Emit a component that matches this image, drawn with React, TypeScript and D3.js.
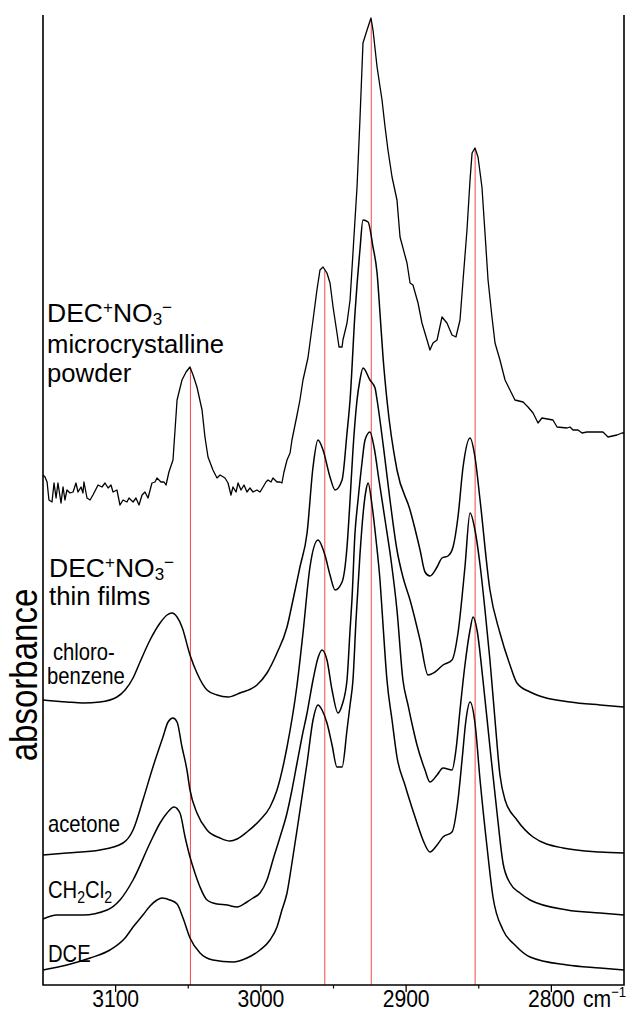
import React from "react";
import * as d3 from "d3";

type Pt = [number, number];

// wavenumber (cm^-1), absorbance (offset, arbitrary units)
const powder: Pt[] = [
  [3150, 0.508], [3148.6, 0.506], [3147.2, 0.501], [3145.9, 0.483], [3143.8, 0.481], [3142.4, 0.5], [3141.0, 0.485],
  [3139.7, 0.5], [3137.6, 0.48], [3136.2, 0.496], [3134.9, 0.483], [3133.5, 0.493], [3131.4, 0.49], [3129.3, 0.491],
  [3127.3, 0.5], [3125.9, 0.491], [3123.8, 0.496], [3122.5, 0.49], [3121.8, 0.501], [3119.7, 0.485], [3117.6, 0.483],
  [3115.6, 0.488], [3112.1, 0.498], [3109.4, 0.496], [3107.3, 0.5], [3105.2, 0.495], [3103.2, 0.498], [3101.8, 0.491],
  [3099.1, 0.493], [3097.0, 0.478], [3094.9, 0.483], [3092.2, 0.481], [3090.8, 0.485], [3088.0, 0.481], [3086.0, 0.485],
  [3083.9, 0.478], [3081.8, 0.488], [3079.8, 0.491], [3077.7, 0.485], [3075.0, 0.5], [3072.9, 0.501], [3071.5, 0.505],
  [3068.8, 0.501], [3066.7, 0.501], [3065.3, 0.498], [3063.3, 0.511], [3060.5, 0.523], [3059.1, 0.553], [3057.7, 0.583],
  [3054.3, 0.603], [3051.5, 0.611], [3048.8, 0.616], [3046.7, 0.608], [3044.0, 0.596], [3040.5, 0.573], [3038.5, 0.546],
  [3036.4, 0.526], [3033.0, 0.513], [3030.2, 0.505], [3028.1, 0.508], [3024.7, 0.505], [3022.6, 0.5], [3020.6, 0.488],
  [3019.2, 0.496], [3017.1, 0.491], [3015.7, 0.5], [3013.7, 0.493], [3011.6, 0.498], [3009.6, 0.491], [3007.5, 0.495],
  [3005.4, 0.491], [3002.7, 0.493], [3000.6, 0.491], [2998.5, 0.496], [2996.5, 0.501], [2995.1, 0.503], [2993.0, 0.501],
  [2991.7, 0.505], [2988.9, 0.501], [2986.8, 0.501], [2985.5, 0.5], [2984.1, 0.511], [2982.0, 0.523], [2979.9, 0.53],
  [2978.6, 0.543], [2975.1, 0.568], [2973.1, 0.583], [2971.0, 0.603], [2967.6, 0.625], [2964.1, 0.663], [2961.4, 0.693],
  [2959.3, 0.713], [2957.2, 0.716], [2954.5, 0.71], [2952.4, 0.7], [2950.3, 0.676], [2947.6, 0.65], [2946.2, 0.636],
  [2944.1, 0.636], [2943.5, 0.643], [2940.7, 0.66], [2938.6, 0.683], [2936.6, 0.73], [2933.8, 0.796], [2931.8, 0.863],
  [2929.7, 0.94], [2926.9, 0.953], [2924.2, 0.965], [2922.8, 0.953], [2920.0, 0.916], [2916.6, 0.883], [2914.5, 0.856],
  [2912.5, 0.833], [2909.7, 0.806], [2906.3, 0.783], [2904.2, 0.746], [2899.4, 0.72], [2897.3, 0.7], [2895.3, 0.698],
  [2891.8, 0.68], [2889.1, 0.66], [2885.6, 0.643], [2883.6, 0.633], [2881.5, 0.64], [2878.7, 0.643], [2875.3, 0.666],
  [2871.9, 0.66], [2868.4, 0.648], [2865.7, 0.646], [2862.9, 0.663], [2860.8, 0.703], [2858.1, 0.753], [2856.0, 0.803],
  [2854.6, 0.83], [2852.6, 0.835], [2850.5, 0.826], [2847.8, 0.796], [2845.7, 0.75], [2843.6, 0.703], [2840.9, 0.666],
  [2838.8, 0.64], [2835.4, 0.623], [2831.9, 0.603], [2828.5, 0.593], [2825.1, 0.583], [2819.5, 0.581], [2816.1, 0.576],
  [2812.6, 0.57], [2809.2, 0.56], [2806.5, 0.565], [2798.9, 0.563], [2796.1, 0.556], [2789.2, 0.555], [2787.2, 0.556],
  [2785.1, 0.553], [2781.7, 0.553], [2778.9, 0.55], [2775.5, 0.551], [2771.3, 0.551], [2764.5, 0.551], [2761.0, 0.546],
  [2754.8, 0.548], [2751.4, 0.55], [2750, 0.55],
];

const chlorobenzene: Pt[] = [
  [3150, 0.283], [3133.5, 0.281], [3122.5, 0.28], [3110.8, 0.281], [3099.1, 0.286], [3093.5, 0.293], [3088.0, 0.305],
  [3083.2, 0.321], [3076.3, 0.343], [3069.4, 0.36], [3064.6, 0.368], [3061.2, 0.37], [3057.7, 0.366], [3054.3, 0.356],
  [3048.8, 0.328], [3044.0, 0.31], [3037.1, 0.293], [3030.2, 0.288], [3022.6, 0.286], [3014.4, 0.29], [3002.7, 0.298],
  [2995.8, 0.31], [2988.9, 0.33], [2982.0, 0.356], [2977.9, 0.383], [2973.1, 0.416], [2968.2, 0.45], [2964.1, 0.516],
  [2960.7, 0.543], [2957.2, 0.533], [2952.4, 0.506], [2948.9, 0.493], [2944.1, 0.503], [2940.7, 0.55], [2938.6, 0.583],
  [2935.2, 0.67], [2931.8, 0.733], [2929.7, 0.763], [2926.2, 0.761], [2922.8, 0.736], [2920.0, 0.71], [2918.0, 0.67],
  [2915.9, 0.626], [2913.2, 0.583], [2906.3, 0.513], [2897.3, 0.473], [2890.4, 0.433], [2887.0, 0.411], [2883.6, 0.407],
  [2878.7, 0.416], [2875.3, 0.425], [2871.2, 0.427], [2867.7, 0.436], [2864.3, 0.466], [2860.8, 0.516], [2856.0, 0.545],
  [2852.6, 0.526], [2849.1, 0.483], [2842.3, 0.393], [2835.4, 0.35], [2828.5, 0.318], [2823.7, 0.3], [2814.7, 0.291],
  [2805.8, 0.286], [2787.2, 0.281], [2766.5, 0.278], [2750, 0.276],
];

const acetone: Pt[] = [
  [3150, 0.128], [3133.5, 0.13], [3110.8, 0.133], [3094.9, 0.14], [3088.0, 0.153], [3081.2, 0.183], [3074.3, 0.216],
  [3067.4, 0.246], [3063.9, 0.261], [3060.5, 0.265], [3057.7, 0.261], [3054.3, 0.236], [3050.9, 0.213], [3048.8, 0.193],
  [3044.0, 0.17], [3037.1, 0.153], [3028.1, 0.145], [3021.3, 0.142], [3016.4, 0.144], [3009.6, 0.151], [3000.6, 0.163],
  [2993.7, 0.176], [2988.9, 0.193], [2982.0, 0.236], [2975.1, 0.298], [2971.0, 0.35], [2966.2, 0.416], [2960.7, 0.443],
  [2955.9, 0.428], [2952.4, 0.408], [2948.9, 0.393], [2944.1, 0.401], [2940.7, 0.436], [2938.6, 0.483], [2936.6, 0.533],
  [2933.8, 0.583], [2931.8, 0.603], [2929.7, 0.615], [2924.9, 0.603], [2921.4, 0.595], [2920.0, 0.583], [2914.5, 0.523],
  [2911.1, 0.483], [2906.3, 0.433], [2902.2, 0.406], [2897.3, 0.383], [2890.4, 0.343], [2884.9, 0.308], [2880.1, 0.311],
  [2874.6, 0.318], [2868.4, 0.323], [2864.3, 0.35], [2859.5, 0.416], [2856.0, 0.47], [2852.6, 0.453], [2849.1, 0.418],
  [2845.7, 0.373], [2842.3, 0.323], [2838.8, 0.263], [2835.4, 0.208], [2831.9, 0.183], [2823.7, 0.163], [2812.6, 0.146],
  [2792.0, 0.135], [2766.5, 0.131], [2750, 0.13],
];

const ch2cl2: Pt[] = [
  [3150, 0.064], [3140.4, 0.068], [3122.5, 0.068], [3105.9, 0.073], [3097.0, 0.083], [3088.0, 0.103], [3076.3, 0.14],
  [3069.4, 0.16], [3064.6, 0.17], [3059.8, 0.176], [3055.7, 0.17], [3052.2, 0.146], [3048.8, 0.126], [3045.4, 0.11],
  [3041.9, 0.096], [3037.1, 0.083], [3030.2, 0.079], [3023.3, 0.078], [3016.4, 0.076], [3009.6, 0.081], [3005.4, 0.085],
  [3000.6, 0.09], [2995.8, 0.103], [2991.7, 0.123], [2986.8, 0.146], [2982.0, 0.17], [2978.6, 0.193], [2975.1, 0.22],
  [2971.7, 0.246], [2968.2, 0.27], [2964.1, 0.303], [2960.7, 0.325], [2957.9, 0.333], [2954.5, 0.323], [2951.0, 0.293],
  [2946.9, 0.27], [2944.1, 0.278], [2940.7, 0.303], [2938.6, 0.353], [2937.3, 0.383], [2935.2, 0.45], [2933.1, 0.483],
  [2930.4, 0.52], [2928.3, 0.543], [2924.9, 0.551], [2922.1, 0.536], [2918.7, 0.503], [2914.5, 0.463], [2910.4, 0.423],
  [2906.3, 0.373], [2902.2, 0.303], [2898.7, 0.278], [2895.3, 0.255], [2892.5, 0.238], [2887.0, 0.213], [2883.6, 0.201],
  [2878.7, 0.208], [2874.6, 0.215], [2868.4, 0.213], [2865.7, 0.233], [2862.9, 0.273], [2859.5, 0.318], [2856.0, 0.353],
  [2853.9, 0.366], [2851.2, 0.353], [2847.1, 0.303], [2842.3, 0.236], [2837.4, 0.17], [2833.3, 0.12], [2828.5, 0.1],
  [2821.6, 0.09], [2814.7, 0.083], [2789.2, 0.073], [2766.5, 0.07], [2750, 0.068],
];

const dce: Pt[] = [
  [3150, 0.013], [3133.5, 0.018], [3117.6, 0.025], [3103.9, 0.033], [3093.5, 0.045], [3088.0, 0.056], [3081.2, 0.068],
  [3076.3, 0.077], [3071.5, 0.083], [3068.1, 0.085], [3062.6, 0.083], [3057.7, 0.079], [3053.6, 0.065], [3048.8, 0.045],
  [3041.9, 0.03], [3033.0, 0.023], [3019.2, 0.021], [3009.6, 0.025], [3000.6, 0.033], [2993.7, 0.043], [2988.9, 0.056],
  [2985.5, 0.073], [2982.0, 0.09], [2978.6, 0.12], [2975.1, 0.153], [2971.7, 0.186], [2968.2, 0.22], [2964.1, 0.263],
  [2960.7, 0.278], [2957.9, 0.273], [2954.5, 0.26], [2951.0, 0.238], [2947.6, 0.216], [2944.1, 0.216], [2940.7, 0.253],
  [2938.6, 0.278], [2936.6, 0.303], [2934.5, 0.363], [2931.8, 0.428], [2929.7, 0.468], [2927.6, 0.493], [2926.2, 0.5],
  [2923.5, 0.478], [2920.7, 0.443], [2918.0, 0.403], [2915.9, 0.358], [2913.2, 0.303], [2909.7, 0.263], [2906.3, 0.226],
  [2900.8, 0.198], [2895.9, 0.175], [2892.5, 0.16], [2888.4, 0.143], [2883.6, 0.131], [2878.7, 0.138], [2874.6, 0.146],
  [2868.4, 0.151], [2864.3, 0.183], [2861.5, 0.223], [2858.8, 0.263], [2856.0, 0.281], [2852.6, 0.26], [2849.1, 0.203],
  [2844.3, 0.136], [2840.2, 0.086], [2833.3, 0.053], [2825.1, 0.038], [2814.7, 0.026], [2789.2, 0.018], [2766.5, 0.015],
  [2750, 0.013],
];

const markerWavenumbers = [3048.5, 2956, 2924, 2852.5];
const majorTicks = [3100, 3000, 2900, 2800];
const minorTicks = [3050, 2950, 2850];

const FONT = "'Liberation Sans', Arial, Helvetica, sans-serif";

function valueAt(data: Pt[], wn: number): number {
  for (let i = 0; i < data.length - 1; i++) {
    const [x0, y0] = data[i];
    const [x1, y1] = data[i + 1];
    if (x0 >= wn && x1 <= wn) {
      const t = (x0 - wn) / (x0 - x1);
      return y0 + t * (y1 - y0);
    }
  }
  return 0;
}

const Lbl = ({ x, y, size, sx, children }: { x: number; y: number; size: number; sx: number; children: React.ReactNode }) => (
  <text transform={`translate(${x},${y}) scale(${sx},1)`} fontSize={size} fontFamily={FONT} fill="#000">
    {children}
  </text>
);

export default function App() {
  const W = 627;
  const H = 1011;
  const x0 = 43;
  const x1 = 624;
  const axisY = 985;
  const topY = 15;
  const x = d3.scaleLinear().domain([3150, 2750]).range([x0, x1]);
  const y = d3.scaleLinear().domain([0, 0.968]).range([983, 15]);

  const smooth = d3.line<Pt>().x((d) => x(d[0])).y((d) => y(d[1])).curve(d3.curveMonotoneX);
  const jagged = d3.line<Pt>().x((d) => x(d[0])).y((d) => y(d[1])).curve(d3.curveLinear);

  const films = [chlorobenzene, acetone, ch2cl2, dce];

  return (
    <svg width={W} height={H} style={{ position: "absolute", left: 0, top: 0, background: "#fff" }}>
      <rect width={W} height={H} fill="#fff" />
      {markerWavenumbers.map((wn) => (
        <line key={wn} x1={x(wn)} x2={x(wn)} y1={y(valueAt(powder, wn))} y2={axisY} stroke="#f24848" strokeWidth={1} />
      ))}
      <path d={jagged(powder) || ""} fill="none" stroke="#000" strokeWidth={1.3} strokeLinejoin="round" />
      {films.map((f, i) => (
        <path key={i} d={smooth(f) || ""} fill="none" stroke="#000" strokeWidth={1.5} strokeLinejoin="round" />
      ))}
      <path d={`M${x0},${topY}V${axisY}H${x1}V${topY}`} fill="none" stroke="#000" strokeWidth={1.6} />
      {majorTicks.map((t) => (
        <g key={t}>
          <line x1={x(t)} x2={x(t)} y1={axisY} y2={axisY + 7} stroke="#000" strokeWidth={1.3} />
          <text transform={`translate(${x(t)},${1007}) scale(0.88,1)`} textAnchor="middle" fontSize={24} fontFamily={FONT}>
            {t}
          </text>
        </g>
      ))}
      {minorTicks.map((t) => (
        <line key={t} x1={x(t)} x2={x(t)} y1={axisY} y2={axisY + 3.5} stroke="#000" strokeWidth={1.2} />
      ))}
      <text transform={`translate(583,1007) scale(0.88,1)`} fontSize={24} fontFamily={FONT}>
        cm<tspan fontSize={15} dy={-10}>−1</tspan>
      </text>

      <text transform="translate(37,675) rotate(-90) scale(0.87,1)" textAnchor="middle" fontSize={38} fontFamily={FONT}>
        absorbance
      </text>

      <Lbl x={47} y={322} size={26.5} sx={1.0}>
        DEC<tspan fontSize={17} dy={-9}>+</tspan>
        <tspan dy={9}>NO</tspan>
        <tspan fontSize={17} dy={3}>3</tspan>
        <tspan fontSize={17} dy={-12}>−</tspan>
      </Lbl>
      <Lbl x={47} y={353} size={26.5} sx={0.97}>microcrystalline</Lbl>
      <Lbl x={47} y={382} size={26.5} sx={0.97}>powder</Lbl>

      <Lbl x={49} y={577} size={26.5} sx={1.0}>
        DEC<tspan fontSize={17} dy={-9}>+</tspan>
        <tspan dy={9}>NO</tspan>
        <tspan fontSize={17} dy={3}>3</tspan>
        <tspan fontSize={17} dy={-12}>−</tspan>
      </Lbl>
      <Lbl x={49} y={605} size={26.5} sx={0.97}>thin films</Lbl>

      <Lbl x={53} y={660} size={23} sx={0.88}>chloro-</Lbl>
      <Lbl x={47} y={684} size={23} sx={0.88}>benzene</Lbl>
      <Lbl x={48} y={832} size={23} sx={0.88}>acetone</Lbl>
      <Lbl x={48} y={898} size={23} sx={0.88}>
        CH<tspan fontSize={16} dy={5}>2</tspan>
        <tspan dy={-5}>Cl</tspan>
        <tspan fontSize={16} dy={5}>2</tspan>
      </Lbl>
      <Lbl x={48} y={962} size={23} sx={0.88}>DCE</Lbl>
    </svg>
  );
}
